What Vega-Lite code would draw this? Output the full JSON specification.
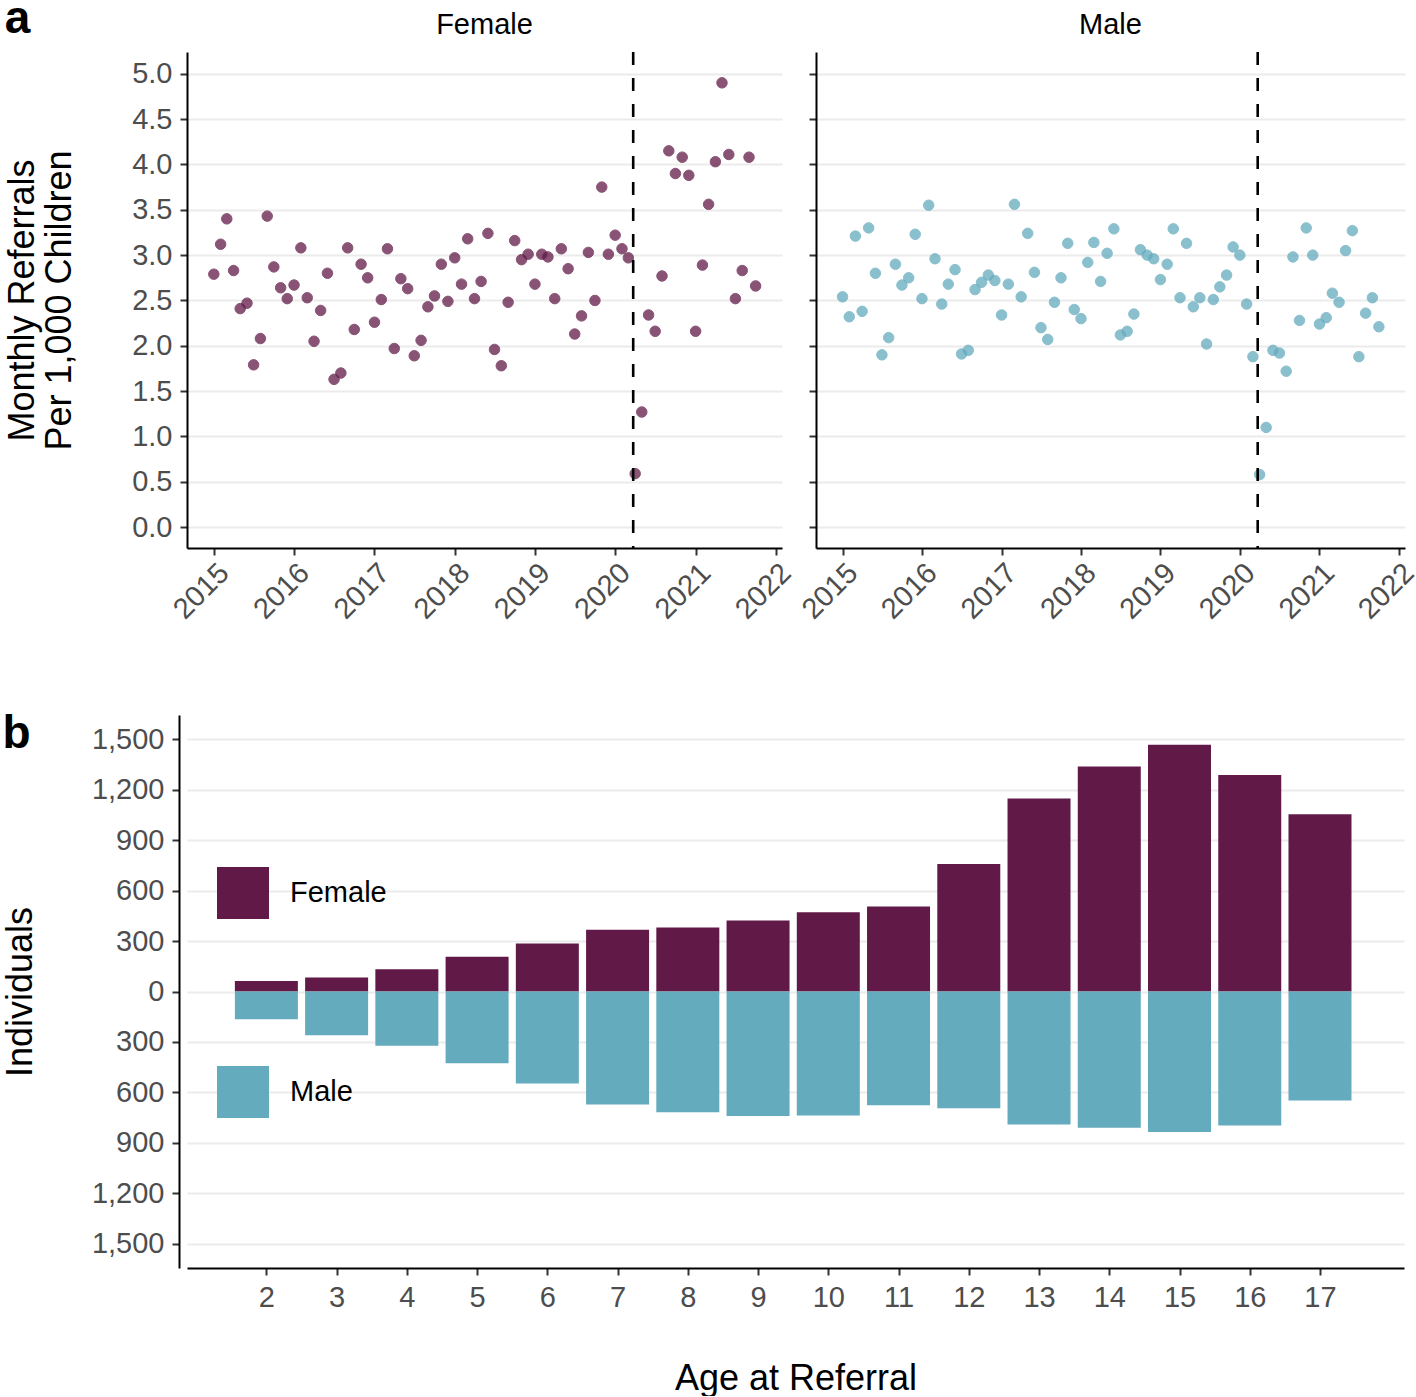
{
  "$schema": "https://vega.github.io/schema/vega-lite/v6.json",
  "padding": {"left": 2, "top": -5, "right": 0, "bottom": 0},
  "background": "white",
  "config": {
    "font": "Liberation Sans",
    "view": {"stroke": null},
    "axis": {
      "domainColor": "black", "domainWidth": 2,
      "tickColor": "#333333", "tickWidth": 2, "tickSize": 7,
      "labelColor": "#4d4d4d", "labelFontSize": 29, "labelPadding": 8,
      "titleColor": "black", "titleFontSize": 36, "titleFontWeight": "normal",
      "gridColor": "#ebebeb", "gridWidth": 2
    },
    "title": {"fontSize": 29, "fontWeight": "normal", "color": "black"}
  },
  "datasets": {
    "female": [
      {"month": "2015-01-01", "rate": 2.79}, {"month": "2015-02-01", "rate": 3.12}, {"month": "2015-03-01", "rate": 3.40}, {"month": "2015-04-01", "rate": 2.83},
      {"month": "2015-05-01", "rate": 2.41}, {"month": "2015-06-01", "rate": 2.47}, {"month": "2015-07-01", "rate": 1.79}, {"month": "2015-08-01", "rate": 2.08},
      {"month": "2015-09-01", "rate": 3.43}, {"month": "2015-10-01", "rate": 2.87}, {"month": "2015-11-01", "rate": 2.64}, {"month": "2015-12-01", "rate": 2.52},
      {"month": "2016-01-01", "rate": 2.67}, {"month": "2016-02-01", "rate": 3.08}, {"month": "2016-03-01", "rate": 2.53}, {"month": "2016-04-01", "rate": 2.05},
      {"month": "2016-05-01", "rate": 2.39}, {"month": "2016-06-01", "rate": 2.80}, {"month": "2016-07-01", "rate": 1.63}, {"month": "2016-08-01", "rate": 1.70},
      {"month": "2016-09-01", "rate": 3.08}, {"month": "2016-10-01", "rate": 2.18}, {"month": "2016-11-01", "rate": 2.90}, {"month": "2016-12-01", "rate": 2.75},
      {"month": "2017-01-01", "rate": 2.26}, {"month": "2017-02-01", "rate": 2.51}, {"month": "2017-03-01", "rate": 3.07}, {"month": "2017-04-01", "rate": 1.97},
      {"month": "2017-05-01", "rate": 2.74}, {"month": "2017-06-01", "rate": 2.63}, {"month": "2017-07-01", "rate": 1.89}, {"month": "2017-08-01", "rate": 2.06},
      {"month": "2017-09-01", "rate": 2.43}, {"month": "2017-10-01", "rate": 2.55}, {"month": "2017-11-01", "rate": 2.90}, {"month": "2017-12-01", "rate": 2.49},
      {"month": "2018-01-01", "rate": 2.97}, {"month": "2018-02-01", "rate": 2.68}, {"month": "2018-03-01", "rate": 3.18}, {"month": "2018-04-01", "rate": 2.52},
      {"month": "2018-05-01", "rate": 2.71}, {"month": "2018-06-01", "rate": 3.24}, {"month": "2018-07-01", "rate": 1.96}, {"month": "2018-08-01", "rate": 1.78},
      {"month": "2018-09-01", "rate": 2.48}, {"month": "2018-10-01", "rate": 3.16}, {"month": "2018-11-01", "rate": 2.95}, {"month": "2018-12-01", "rate": 3.01},
      {"month": "2019-01-01", "rate": 2.68}, {"month": "2019-02-01", "rate": 3.01}, {"month": "2019-03-01", "rate": 2.98}, {"month": "2019-04-01", "rate": 2.52},
      {"month": "2019-05-01", "rate": 3.07}, {"month": "2019-06-01", "rate": 2.85}, {"month": "2019-07-01", "rate": 2.13}, {"month": "2019-08-01", "rate": 2.33},
      {"month": "2019-09-01", "rate": 3.03}, {"month": "2019-10-01", "rate": 2.50}, {"month": "2019-11-01", "rate": 3.75}, {"month": "2019-12-01", "rate": 3.01},
      {"month": "2020-01-01", "rate": 3.22}, {"month": "2020-02-01", "rate": 3.07}, {"month": "2020-03-01", "rate": 2.97}, {"month": "2020-04-01", "rate": 0.59},
      {"month": "2020-05-01", "rate": 1.27}, {"month": "2020-06-01", "rate": 2.34}, {"month": "2020-07-01", "rate": 2.16}, {"month": "2020-08-01", "rate": 2.77},
      {"month": "2020-09-01", "rate": 4.15}, {"month": "2020-10-01", "rate": 3.90}, {"month": "2020-11-01", "rate": 4.08}, {"month": "2020-12-01", "rate": 3.88},
      {"month": "2021-01-01", "rate": 2.16}, {"month": "2021-02-01", "rate": 2.89}, {"month": "2021-03-01", "rate": 3.56}, {"month": "2021-04-01", "rate": 4.03},
      {"month": "2021-05-01", "rate": 4.90}, {"month": "2021-06-01", "rate": 4.11}, {"month": "2021-07-01", "rate": 2.52}, {"month": "2021-08-01", "rate": 2.83},
      {"month": "2021-09-01", "rate": 4.08}, {"month": "2021-10-01", "rate": 2.66}
    ],
    "male": [
      {"month": "2015-01-01", "rate": 2.54}, {"month": "2015-02-01", "rate": 2.32}, {"month": "2015-03-01", "rate": 3.21}, {"month": "2015-04-01", "rate": 2.38},
      {"month": "2015-05-01", "rate": 3.30}, {"month": "2015-06-01", "rate": 2.80}, {"month": "2015-07-01", "rate": 1.90}, {"month": "2015-08-01", "rate": 2.09},
      {"month": "2015-09-01", "rate": 2.90}, {"month": "2015-10-01", "rate": 2.67}, {"month": "2015-11-01", "rate": 2.75}, {"month": "2015-12-01", "rate": 3.23},
      {"month": "2016-01-01", "rate": 2.52}, {"month": "2016-02-01", "rate": 3.55}, {"month": "2016-03-01", "rate": 2.96}, {"month": "2016-04-01", "rate": 2.46},
      {"month": "2016-05-01", "rate": 2.68}, {"month": "2016-06-01", "rate": 2.84}, {"month": "2016-07-01", "rate": 1.91}, {"month": "2016-08-01", "rate": 1.95},
      {"month": "2016-09-01", "rate": 2.62}, {"month": "2016-10-01", "rate": 2.70}, {"month": "2016-11-01", "rate": 2.78}, {"month": "2016-12-01", "rate": 2.72},
      {"month": "2017-01-01", "rate": 2.34}, {"month": "2017-02-01", "rate": 2.68}, {"month": "2017-03-01", "rate": 3.56}, {"month": "2017-04-01", "rate": 2.54},
      {"month": "2017-05-01", "rate": 3.24}, {"month": "2017-06-01", "rate": 2.81}, {"month": "2017-07-01", "rate": 2.20}, {"month": "2017-08-01", "rate": 2.07},
      {"month": "2017-09-01", "rate": 2.48}, {"month": "2017-10-01", "rate": 2.75}, {"month": "2017-11-01", "rate": 3.13}, {"month": "2017-12-01", "rate": 2.40},
      {"month": "2018-01-01", "rate": 2.30}, {"month": "2018-02-01", "rate": 2.92}, {"month": "2018-03-01", "rate": 3.14}, {"month": "2018-04-01", "rate": 2.71},
      {"month": "2018-05-01", "rate": 3.02}, {"month": "2018-06-01", "rate": 3.29}, {"month": "2018-07-01", "rate": 2.12}, {"month": "2018-08-01", "rate": 2.16},
      {"month": "2018-09-01", "rate": 2.35}, {"month": "2018-10-01", "rate": 3.06}, {"month": "2018-11-01", "rate": 3.00}, {"month": "2018-12-01", "rate": 2.96},
      {"month": "2019-01-01", "rate": 2.73}, {"month": "2019-02-01", "rate": 2.90}, {"month": "2019-03-01", "rate": 3.29}, {"month": "2019-04-01", "rate": 2.53},
      {"month": "2019-05-01", "rate": 3.13}, {"month": "2019-06-01", "rate": 2.43}, {"month": "2019-07-01", "rate": 2.53}, {"month": "2019-08-01", "rate": 2.02},
      {"month": "2019-09-01", "rate": 2.51}, {"month": "2019-10-01", "rate": 2.65}, {"month": "2019-11-01", "rate": 2.78}, {"month": "2019-12-01", "rate": 3.09},
      {"month": "2020-01-01", "rate": 3.00}, {"month": "2020-02-01", "rate": 2.46}, {"month": "2020-03-01", "rate": 1.88}, {"month": "2020-04-01", "rate": 0.58},
      {"month": "2020-05-01", "rate": 1.10}, {"month": "2020-06-01", "rate": 1.95}, {"month": "2020-07-01", "rate": 1.92}, {"month": "2020-08-01", "rate": 1.72},
      {"month": "2020-09-01", "rate": 2.98}, {"month": "2020-10-01", "rate": 2.28}, {"month": "2020-11-01", "rate": 3.30}, {"month": "2020-12-01", "rate": 3.00},
      {"month": "2021-01-01", "rate": 2.24}, {"month": "2021-02-01", "rate": 2.31}, {"month": "2021-03-01", "rate": 2.58}, {"month": "2021-04-01", "rate": 2.48},
      {"month": "2021-05-01", "rate": 3.05}, {"month": "2021-06-01", "rate": 3.27}, {"month": "2021-07-01", "rate": 1.88}, {"month": "2021-08-01", "rate": 2.36},
      {"month": "2021-09-01", "rate": 2.53}, {"month": "2021-10-01", "rate": 2.21}
    ],
    "lockdown": [{"date": "2020-03-23"}],
    "ages": [
      {"age": 2, "sex": "Female", "n": 62}, {"age": 2, "sex": "Male", "n": -165},
      {"age": 3, "sex": "Female", "n": 83}, {"age": 3, "sex": "Male", "n": -261},
      {"age": 4, "sex": "Female", "n": 133}, {"age": 4, "sex": "Male", "n": -323},
      {"age": 5, "sex": "Female", "n": 207}, {"age": 5, "sex": "Male", "n": -427},
      {"age": 6, "sex": "Female", "n": 285}, {"age": 6, "sex": "Male", "n": -547},
      {"age": 7, "sex": "Female", "n": 367}, {"age": 7, "sex": "Male", "n": -672},
      {"age": 8, "sex": "Female", "n": 381}, {"age": 8, "sex": "Male", "n": -719},
      {"age": 9, "sex": "Female", "n": 423}, {"age": 9, "sex": "Male", "n": -740},
      {"age": 10, "sex": "Female", "n": 472}, {"age": 10, "sex": "Male", "n": -737},
      {"age": 11, "sex": "Female", "n": 506}, {"age": 11, "sex": "Male", "n": -677},
      {"age": 12, "sex": "Female", "n": 758}, {"age": 12, "sex": "Male", "n": -695},
      {"age": 13, "sex": "Female", "n": 1148}, {"age": 13, "sex": "Male", "n": -791},
      {"age": 14, "sex": "Female", "n": 1339}, {"age": 14, "sex": "Male", "n": -810},
      {"age": 15, "sex": "Female", "n": 1468}, {"age": 15, "sex": "Male", "n": -836},
      {"age": 16, "sex": "Female", "n": 1288}, {"age": 16, "sex": "Male", "n": -797},
      {"age": 17, "sex": "Female", "n": 1054}, {"age": 17, "sex": "Male", "n": -648}
    ]
  },
  "spacing": 86,
  "vconcat": [
    {
      "title": {"text": "a", "anchor": "start", "frame": "bounds", "fontSize": 46, "fontWeight": "bold", "offset": -32},
      "spacing": -1,
      "hconcat": [
        {
          "width": 595, "height": 496,
          "title": {"text": "Female", "offset": 11},
          "layer": [
            {
              "data": {"name": "female"},
              "mark": {"type": "point", "filled": true, "size": 110, "opacity": 0.75, "color": "#611a47", "stroke": "#611a47", "strokeWidth": 1},
              "encoding": {
                "x": {"field": "month", "type": "temporal",
                  "scale": {"type": "utc", "domain": [{"year": 2014, "month": 9, "date": 1, "utc": true}, {"year": 2022, "month": 1, "date": 29, "utc": true}], "nice": false},
                  "axis": {"title": null, "grid": false, "format": "%Y", "labelAngle": -45, "labelAlign": "right", "labelBaseline": "top", "labelPadding": 3,
                    "values": [{"year": 2015, "utc": true}, {"year": 2016, "utc": true}, {"year": 2017, "utc": true}, {"year": 2018, "utc": true}, {"year": 2019, "utc": true}, {"year": 2020, "utc": true}, {"year": 2021, "utc": true}, {"year": 2022, "utc": true}]}},
                "y": {"field": "rate", "type": "quantitative",
                  "scale": {"domain": [-0.23, 5.24], "nice": false, "zero": false},
                  "axis": {"title": ["Monthly Referrals", "Per 1,000 Children"], "titlePadding": 53, "titleLineHeight": 37, "grid": true, "format": ".1f",
                    "values": [0, 0.5, 1, 1.5, 2, 2.5, 3, 3.5, 4, 4.5, 5]}}
              }
            },
            {
              "data": {"name": "lockdown"},
              "mark": {"type": "rule", "color": "black", "strokeWidth": 2.6, "strokeDash": [13, 13]},
              "encoding": {"x": {"field": "date", "type": "temporal"}}
            }
          ]
        },
        {
          "width": 589, "height": 496,
          "title": {"text": "Male", "offset": 11},
          "layer": [
            {
              "data": {"name": "male"},
              "mark": {"type": "point", "filled": true, "size": 110, "opacity": 0.75, "color": "#63abbd", "stroke": "#63abbd", "strokeWidth": 1},
              "encoding": {
                "x": {"field": "month", "type": "temporal",
                  "scale": {"type": "utc", "domain": [{"year": 2014, "month": 9, "date": 1, "utc": true}, {"year": 2022, "month": 1, "date": 29, "utc": true}], "nice": false},
                  "axis": {"title": null, "grid": false, "format": "%Y", "labelAngle": -45, "labelAlign": "right", "labelBaseline": "top", "labelPadding": 3,
                    "values": [{"year": 2015, "utc": true}, {"year": 2016, "utc": true}, {"year": 2017, "utc": true}, {"year": 2018, "utc": true}, {"year": 2019, "utc": true}, {"year": 2020, "utc": true}, {"year": 2021, "utc": true}, {"year": 2022, "utc": true}]}},
                "y": {"field": "rate", "type": "quantitative",
                  "scale": {"domain": [-0.23, 5.24], "nice": false, "zero": false},
                  "axis": {"title": null, "labels": false, "grid": true,
                    "values": [0, 0.5, 1, 1.5, 2, 2.5, 3, 3.5, 4, 4.5, 5]}}
              }
            },
            {
              "data": {"name": "lockdown"},
              "mark": {"type": "rule", "color": "black", "strokeWidth": 2.6, "strokeDash": [13, 13]},
              "encoding": {"x": {"field": "date", "type": "temporal"}}
            }
          ]
        }
      ]
    },
    {
      "width": 1217, "height": 553,
      "title": {"text": "b", "anchor": "start", "frame": "bounds", "fontSize": 46, "fontWeight": "bold", "offset": -43},
      "data": {"name": "ages"},
      "mark": {"type": "bar", "size": 63},
      "encoding": {
        "x": {"field": "age", "type": "quantitative",
          "scale": {"domain": [0.87, 18.196], "nice": false, "zero": false, "padding": 0},
          "axis": {"title": "Age at Referral", "titlePadding": 49, "grid": false, "labelPadding": 8,
            "values": [2, 3, 4, 5, 6, 7, 8, 9, 10, 11, 12, 13, 14, 15, 16, 17]}},
        "y": {"field": "n", "type": "quantitative",
          "scale": {"domain": [-1645, 1645], "nice": false},
          "axis": {"title": "Individuals", "titlePadding": 52, "offset": 8, "grid": true,
            "labelExpr": "format(abs(datum.value), ',')",
            "values": [-1500, -1200, -900, -600, -300, 0, 300, 600, 900, 1200, 1500]}},
        "color": {"field": "sex", "type": "nominal",
          "scale": {"domain": ["Female", "Male"], "range": ["#611a47", "#63abbd"]},
          "legend": {"orient": "none", "legendX": 30, "legendY": 815, "title": null, "padding": 0,
            "symbolType": "square", "symbolSize": 2704, "symbolStrokeWidth": 0, "symbolOpacity": 1,
            "labelFontSize": 29, "labelColor": "black", "labelOffset": 21, "rowPadding": 147}}
      }
    }
  ]
}
